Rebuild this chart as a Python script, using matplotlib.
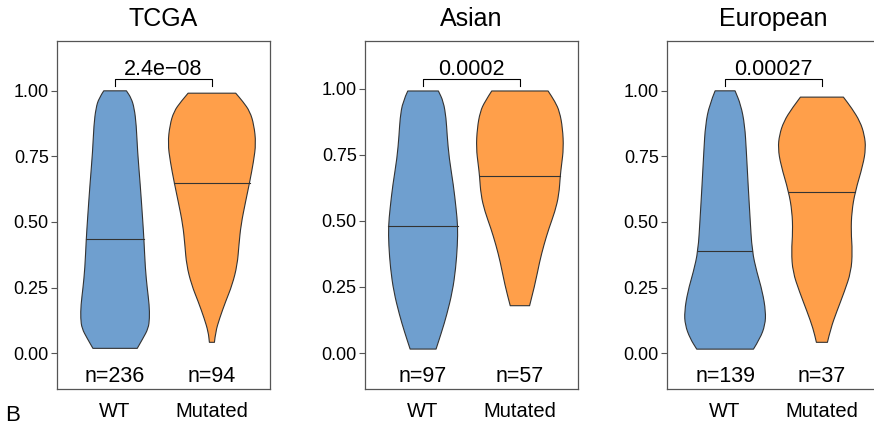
import matplotlib.pyplot as plt
from matplotlib.patches import PathPatch
from matplotlib.path import Path

plt.rcParams["font.family"] = ["Liberation Sans", "DejaVu Sans"]

# ---------------------------------------------------------------------------
# Data: violin outlines (value level, half-width in x units), medians, counts
# ---------------------------------------------------------------------------
groups = ["WT", "Mutated"]
cohorts = ["TCGA", "Asian", "European"]
pvals = ["2.4e\u221208", "0.0002", "0.00027"]
counts = [(236, 94), (97, 57), (139, 37)]
medians = [(0.434, 0.650), (0.480, 0.671), (0.389, 0.615)]

tcga_wt_y = [1.000, 0.972, 0.934, 0.870, 0.768, 0.641, 0.514, 0.434, 0.323,
             0.247, 0.183, 0.132, 0.094, 0.056, 0.018]
tcga_wt_hw = [0.117, 0.167, 0.198, 0.219, 0.232, 0.260, 0.284, 0.298, 0.312,
              0.332, 0.353, 0.356, 0.343, 0.288, 0.229]
tcga_mut_y = [0.991, 0.959, 0.921, 0.870, 0.800, 0.730, 0.650, 0.578, 0.489,
              0.412, 0.336, 0.260, 0.196, 0.132, 0.081, 0.041]
tcga_mut_hw = [0.246, 0.320, 0.393, 0.434, 0.455, 0.430, 0.389, 0.348, 0.300,
               0.279, 0.262, 0.210, 0.141, 0.079, 0.038, 0.026]

asian_wt_y = [0.991, 0.951, 0.888, 0.825, 0.737, 0.636, 0.547, 0.480, 0.409,
              0.320, 0.232, 0.144, 0.081, 0.015]
asian_wt_hw = [0.158, 0.210, 0.238, 0.248, 0.269, 0.313, 0.341, 0.358, 0.355,
               0.337, 0.303, 0.244, 0.193, 0.134]
asian_mut_y = [0.991, 0.951, 0.913, 0.850, 0.775, 0.711, 0.671, 0.598, 0.535,
               0.472, 0.409, 0.345, 0.257, 0.179]
asian_mut_hw = [0.291, 0.362, 0.410, 0.441, 0.451, 0.430, 0.417, 0.403, 0.362,
                0.300, 0.248, 0.203, 0.155, 0.100]

eur_wt_y = [1.000, 0.947, 0.870, 0.768, 0.641, 0.514, 0.389, 0.310, 0.234,
            0.158, 0.107, 0.056, 0.015]
eur_wt_hw = [0.103, 0.162, 0.203, 0.220, 0.238, 0.258, 0.279, 0.327, 0.386,
             0.420, 0.413, 0.362, 0.293]
eur_mut_y = [0.976, 0.934, 0.883, 0.832, 0.781, 0.718, 0.615, 0.539, 0.463,
             0.387, 0.310, 0.234, 0.158, 0.094, 0.041]
eur_mut_hw = [0.222, 0.308, 0.394, 0.439, 0.453, 0.425, 0.343, 0.308, 0.301,
              0.315, 0.301, 0.232, 0.153, 0.091, 0.057]

outlines = [
    [(tcga_wt_y, tcga_wt_hw), (tcga_mut_y, tcga_mut_hw)],
    [(asian_wt_y, asian_wt_hw), (asian_mut_y, asian_mut_hw)],
    [(eur_wt_y, eur_wt_hw), (eur_mut_y, eur_mut_hw)],
]
ylims = [(-0.137, 1.19), (-0.136, 1.18), (-0.137, 1.19)]
bracket_y = [1.047, 1.038, 1.047]

fill_colors = ["#6F9FCF", "#FF9F4A"]
edge = "#333333"
frame = "#555555"


def smooth_side(pts):
    """Quadratic-curve path codes through an ordered list of outline points."""
    verts = [pts[0]]
    codes = [Path.LINETO]
    for k in range(1, len(pts) - 1):
        mid = ((pts[k][0] + pts[k + 1][0]) / 2, (pts[k][1] + pts[k + 1][1]) / 2)
        verts += [pts[k], mid]
        codes += [Path.CURVE3, Path.CURVE3]
    verts.append(pts[-1])
    codes.append(Path.LINETO)
    return verts, codes


def violin_path(x0, ys, hws):
    left = [(x0 - w, y) for y, w in zip(ys, hws)]
    right = [(x0 + w, y) for y, w in zip(ys[::-1], hws[::-1])]
    lv, lc = smooth_side(left)
    rv, rc = smooth_side(right)
    lc[0] = Path.MOVETO
    verts = lv + rv + [left[0]]
    codes = lc + rc + [Path.CLOSEPOLY]
    return Path(verts, codes)


# ---------------------------------------------------------------------------
# Figure
# ---------------------------------------------------------------------------
fig = plt.figure(figsize=(8.74, 4.25), dpi=100)
lefts = [57, 365, 667]
W, H = 874, 425

for i, name in enumerate(cohorts):
    ax = fig.add_axes([lefts[i] / W, 36 / H, 213 / W, 348 / H])
    ax.set_xlim(0.4, 2.6)
    ax.set_ylim(*ylims[i])

    for j in range(2):
        ys, hws = outlines[i][j]
        x0 = j + 1
        ax.add_patch(PathPatch(violin_path(x0, ys, hws), facecolor=fill_colors[j],
                               edgecolor=edge, lw=0.8, joinstyle="round"))
        med = medians[i][j]
        # half-width at the median, taken from the outline list
        k = min(range(len(ys)), key=lambda n: abs(ys[n] - med))
        ax.plot([x0 - hws[k], x0 + hws[k]], [med, med], color=edge, lw=0.8)
        ax.text(x0, -0.09, f"n={counts[i][j]}", ha="center", va="center",
                fontsize=15.5)

    # significance bracket
    by = bracket_y[i]
    ax.plot([1, 1, 2, 2], [by - 0.028, by, by, by - 0.028], color="black",
            lw=0.8)
    ax.text(1.5, by + 0.014, pvals[i], ha="center", va="baseline",
            fontsize=15.5)

    ax.set_title(name, fontsize=18, pad=11)
    ax.set_xticks([1, 2])
    ax.set_xticklabels(groups, fontsize=14.5)
    ax.tick_params(axis="x", length=0, pad=9.5)
    ax.set_yticks([0, 0.25, 0.5, 0.75, 1.0])
    ax.set_yticklabels(["0.00", "0.25", "0.50", "0.75", "1.00"], fontsize=13)
    ax.tick_params(axis="y", length=4, width=0.8, color=frame, pad=2)
    for sp in ax.spines.values():
        sp.set_color(frame)
        sp.set_linewidth(0.9)

fig.text(5 / W, 1 - 421 / H, "B", fontsize=16, ha="left", va="baseline")

fig.savefig("out.png", dpi=100)
